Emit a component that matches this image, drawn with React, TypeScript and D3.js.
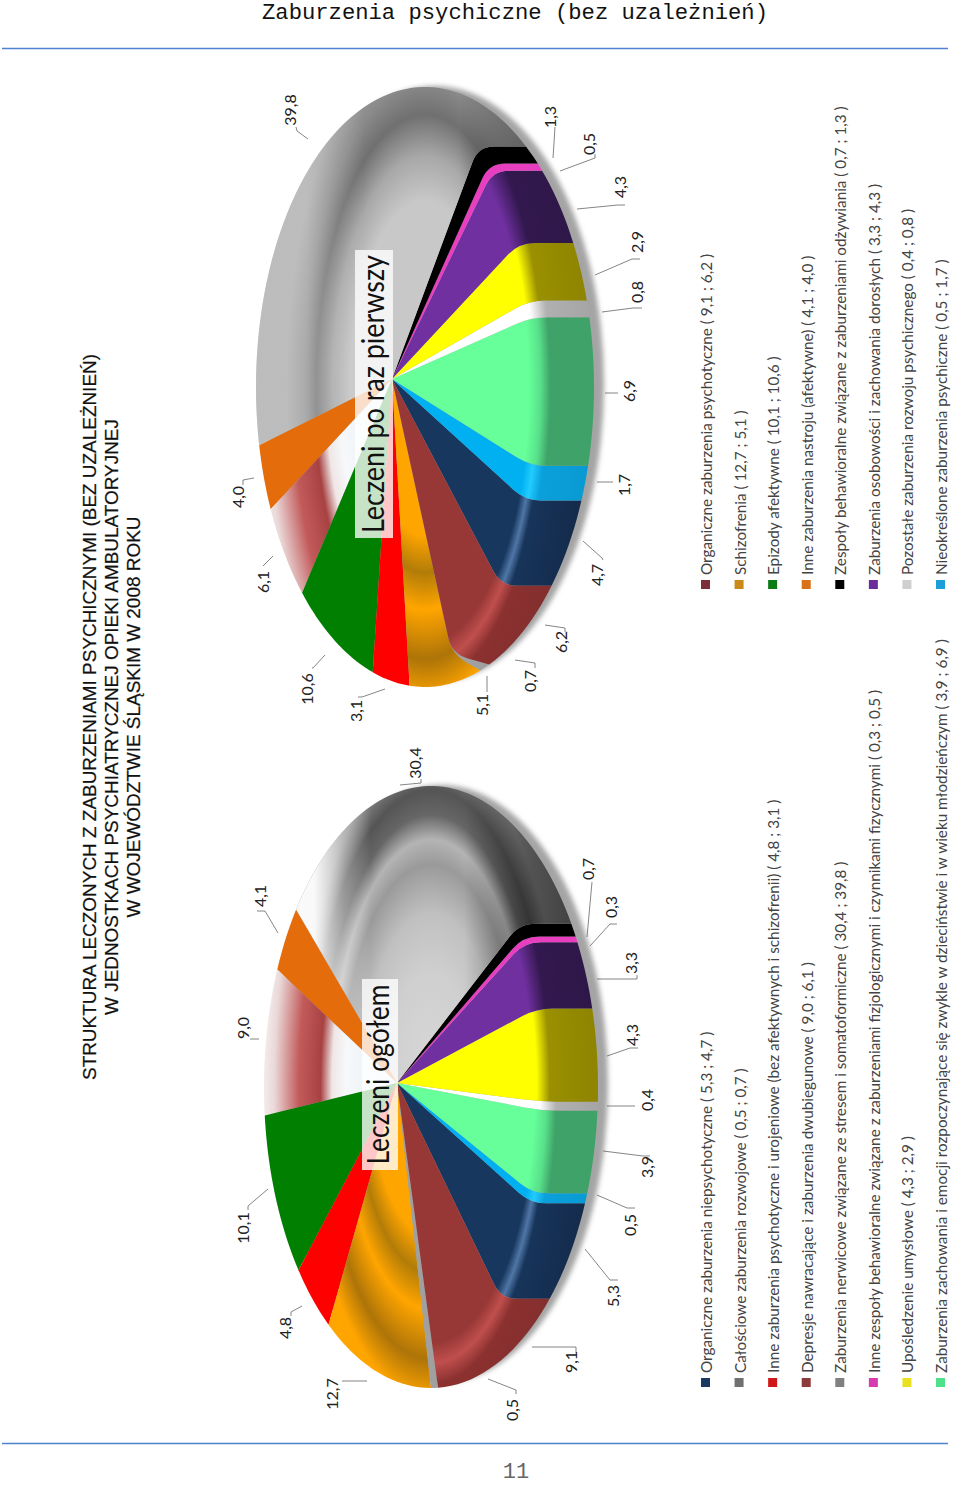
import React from 'react';
import * as d3 from 'd3';

const categories = [
  'Organiczne zaburzenia niepsychotyczne',
  'Nieokreślone zaburzenia psychiczne',
  'Zaburzenia zachowania i emocji rozpoczynające się zwykle w dzieciństwie i w wieku młodzieńczym',
  'Pozostałe zaburzenia rozwoju psychicznego',
  'Upośledzenie umysłowe',
  'Zaburzenia osobowości i zachowania dorosłych',
  'Inne zespoły behawioralne związane z zaburzeniami fizjologicznymi i czynnikami fizycznymi',
  'Zespoły behawioralne  związane z zaburzeniami odżywiania',
  'Zaburzenia nerwicowe związane ze stresem i somatoformiczne',
  'Inne zaburzenia nastroju (afektywne)',
  'Depresje nawracające i zaburzenia dwubiegunowe',
  'Epizody afektywne',
  'Inne zaburzenia psychotyczne i urojeniowe (bez afektywnych i schizofrenii)',
  'Schizofrenia',
  'Całościowe zaburzenia rozwojowe',
  'Organiczne zaburzenia psychotyczne',
];
const totalValues = [5.3, 0.5, 3.9, 0.4, 4.3, 3.3, 0.3, 0.7, 30.4, 4.1, 9.0, 10.1, 4.8, 12.7, 0.5, 9.1];
const firstValues = [4.7, 1.7, 6.9, 0.8, 2.9, 4.3, 0.5, 1.3, 39.8, 4.0, 6.1, 10.6, 3.1, 5.1, 0.7, 6.2];
const legendLeftOrder = [0, 14, 12, 10, 8, 6, 4, 2];
const legendRightOrder = [15, 13, 11, 9, 7, 5, 3, 1];
const legendColors = ['#1b3a63', '#1c9fd8', '#4fe08a', '#cfcfcf', '#e8e020', '#6b2d9c', '#d63cb0', '#000000', '#808080', '#d9701a', '#8f3a3a', '#0a7a12', '#d01818', '#c98a1a', '#707070', '#7d2c3a'];

const titleLines = [
  'STRUKTURA LECZONYCH Z ZABURZENIAMI PSYCHICZNYMI (BEZ UZALEŻNIEŃ)',
  'W JEDNOSTKACH PSYCHIATRYCZNEJ OPIEKI AMBULATORYJNEJ',
  'W WOJEWÓDZTWIE ŚLĄSKIM W 2008 ROKU',
];

// gradient stops per slice, offset runs out from the pie centre
type Stop = [number, string];
const stopsTotalGray: Stop[] = [[0, '#d8d8d8'], [0.28, '#cfcfcf'], [0.42, '#c0c0c0'], [0.54, '#9a9a9a'], [0.6, '#b4b4b4'], [0.66, '#666666'], [0.72, '#555555'], [0.8, '#8a8a8a'], [1, '#8a8a8a']];
const stopsFirstGray: Stop[] = [[0, '#c8c8c8'], [0.45, '#c8c8c8'], [0.56, '#a8a8a8'], [0.66, '#707070'], [0.74, '#8a8a8a'], [0.84, '#a0a0a0'], [1, '#a0a0a0']];
const sliceStops: Stop[][] = [
  [[0, '#17375e'], [0.63, '#17375e'], [0.67, '#4f76a6'], [0.71, '#17345a'], [1, '#142a4a']],
  [[0, '#00b0f0'], [0.63, '#00b0f0'], [0.68, '#22ccff'], [0.74, '#0aa0dc'], [1, '#0a9ad2']],
  [[0, '#66ff99'], [0.63, '#66ff99'], [0.7, '#58e08a'], [0.76, '#3fa268'], [1, '#3fa268']],
  [[0, '#ffffff'], [0.66, '#ffffff'], [0.76, '#b0b0b0'], [1, '#a6a6a6']],
  [[0, '#ffff00'], [0.64, '#ffff00'], [0.72, '#9a9000'], [1, '#8e8400']],
  [[0, '#7030a0'], [0.62, '#7030a0'], [0.72, '#32184e'], [1, '#2e1748']],
  [[0, '#e83fc0'], [1, '#e83fc0']],
  [[0, '#000000'], [1, '#000000']],
  stopsTotalGray,
  [[0, '#e46c0a'], [1, '#e46c0a']],
  [[0, '#dbe6f0'], [0.52, '#f6f8fa'], [0.6, '#f0e6e6'], [0.67, '#a84242'], [0.8, '#c25a5a'], [0.95, '#ead8d8'], [1, '#f2e8e8']],
  [[0, '#007f00'], [1, '#007f00']],
  [[0, '#ff0000'], [1, '#ff0000']],
  [[0, '#ffa500'], [0.36, '#ffa500'], [0.45, '#b27c08'], [0.54, '#ffa500'], [0.66, '#ad7408'], [0.76, '#ffa500'], [1, '#ffa500']],
  [[0, '#a0a0a0'], [1, '#a0a0a0']],
  [[0, '#983836'], [0.62, '#983836'], [0.67, '#bf4f4d'], [0.72, '#8b3130'], [1, '#7e2d2d']],
];

// callout leaders: [points, label x, label y], same order as the slices
type Callout = [number[][], number, number];
const calloutsTotal: Callout[] = [
  [[[585, 1249], [610, 1280], [618, 1280]], 613, 1296],
  [[[597, 1195], [627, 1208], [635, 1208]], 630, 1225],
  [[[603, 1151], [643, 1156], [650, 1156]], 647, 1167],
  [[[607, 1106], [635, 1106]], 647, 1100],
  [[[607, 1056], [630, 1048], [638, 1048]], 632, 1035],
  [[[597, 979], [637, 979], [637, 975]], 631, 963],
  [[[590, 946], [610, 924], [617, 924]], 611, 907],
  [[[587, 937], [592, 882]], 588, 869],
  [[[400, 785], [421, 783], [421, 779]], 415, 763],
  [[[278, 933], [265, 911], [257, 911]], 260, 896],
  [[[259, 1039], [250, 1039]], 243, 1028],
  [[[268, 1189], [248, 1206], [248, 1210]], 243, 1228],
  [[[302, 1306], [291, 1312], [291, 1316]], 285, 1328],
  [[[367, 1381], [342, 1381]], 332, 1394],
  [[[488, 1379], [516, 1390], [516, 1394]], 512, 1410],
  [[[532, 1347], [576, 1347], [576, 1353]], 571, 1362],
];
const calloutsFirst: Callout[] = [
  [[[583, 541], [602, 558], [603, 560]], 597, 575],
  [[[597, 482], [613, 482]], 624, 485],
  [[[605, 393], [618, 393]], 629, 391],
  [[[602, 312], [633, 308], [642, 308]], 637, 292],
  [[[595, 275], [632, 259], [640, 259]], 637, 242],
  [[[577, 209], [618, 205], [625, 205]], 620, 187],
  [[[560, 171], [595, 158], [595, 154]], 589, 144],
  [[[553, 158], [555, 127]], 550, 117],
  [[[308, 139], [297, 131], [296, 127]], 290, 110],
  [[[254, 478], [243, 480], [243, 485]], 238, 497],
  [[[273, 556], [263, 566]], 263, 582],
  [[[325, 655], [313, 668], [312, 668]], 307, 689],
  [[[385, 689], [362, 697], [358, 697]], 356, 711],
  [[[487, 676], [487, 692]], 482, 705],
  [[[515, 660], [535, 663], [535, 668]], 530, 681],
  [[[545, 625], [565, 628], [565, 632]], 561, 642],
];

const pieces = [
  { id: 'total', values: totalValues, callouts: calloutsTotal, grayStops: stopsTotalGray, cx: 431, cy: 1087, rx: 167, ry: 301, shift: -0.14, start: 39, bulgeAt: 85, bulge: 10, apex: [397, 1083], ringRx: 110, ringRy: 275, whiteEdge: 0.95, caption: 'Leczeni ogółem', captionLen: 180, box: [362, 979, 36, 191] },
  { id: 'first', values: firstValues, callouts: calloutsFirst, grayStops: stopsFirstGray, cx: 425, cy: 387, rx: 169, ry: 300, shift: -0.13, start: 36.7, bulgeAt: 92, bulge: 9, apex: [392, 379], ringRx: 110, ringRy: 275, whiteEdge: 0.3, caption: 'Leczeni po raz pierwszy', captionLen: 278, box: [355, 250, 38, 288] },
];

const fmt = d3.formatLocale({ decimal: ',', thousands: ' ', grouping: [3], currency: ['', ''] }).format('.1f');
const sans = '"Liberation Sans", Arial, sans-serif';
const labelFont = 'Lato, "Open Sans", sans-serif';

function PerspectivePie({ p }: { p: (typeof pieces)[number] }) {
  const arcs = d3.pie<number>().sort(null).value((d) => d)(p.values);
  const root = Math.sqrt(1 - p.shift * p.shift);
  // circle angle -> tilted ellipse, the front of the pie bulges a bit
  const project = (angle: number): [number, number] => {
    let deg = p.start - (angle * 180) / Math.PI;
    deg = ((deg + 540) % 360) - 180;
    deg += p.bulge * Math.exp(-(((deg - p.bulgeAt) / 25) ** 2));
    const t = (deg * Math.PI) / 180;
    const a = Math.cos(t);
    const b = Math.sin(t);
    const k = 1 + p.shift * a;
    return [p.cx + (p.rx * (a + p.shift)) / k, p.cy + (p.ry * b * root) / k];
  };
  const apex = p.apex;

  const kink = (rim: [number, number]): [number, number] | null => {
    const raw = (rim[1] - p.cy) / p.ringRy;
    if (rim[0] < p.cx + 4) return null;
    const dy = Math.max(-0.97, Math.min(0.97, raw));
    const x = p.cx + p.ringRx * Math.sqrt(1 - dy * dy);
    return x < rim[0] ? [x, p.cy + dy * p.ringRy] : null;
  };
  const toward = (from: number[], to: number[], dist: number): [number, number] => {
    const len = Math.hypot(to[0] - from[0], to[1] - from[1]) || 1;
    const d = Math.min(dist, len / 2);
    return [from[0] + ((to[0] - from[0]) * d) / len, from[1] + ((to[1] - from[1]) * d) / len];
  };

  const slicePath = (a0: number, a1: number) => {
    const path = d3.path();
    const r0 = project(a0);
    const r1 = project(a1);
    const k0 = kink(r0);
    const k1 = kink(r1);
    path.moveTo(apex[0], apex[1]);
    if (k0) {
      const s = toward(k0, apex, 16);
      const e = toward(k0, r0, 16);
      path.lineTo(s[0], s[1]);
      path.quadraticCurveTo(k0[0], k0[1], e[0], e[1]);
    }
    path.lineTo(r0[0], r0[1]);
    const steps = Math.max(2, Math.ceil((a1 - a0) / 0.03));
    d3.range(1, steps + 1).forEach((i) => {
      const q = project(a0 + ((a1 - a0) * i) / steps);
      path.lineTo(q[0], q[1]);
    });
    if (k1) {
      const s = toward(k1, r1, 16);
      const e = toward(k1, apex, 16);
      path.lineTo(s[0], s[1]);
      path.quadraticCurveTo(k1[0], k1[1], e[0], e[1]);
    }
    path.closePath();
    return path.toString();
  };

  const gradTransform = `translate(${p.cx},${p.cy}) scale(${p.ringRx * 1.5},${p.ringRy * 1.5})`;
  const grayIndex = 8;
  const [bx, by, bw, bh] = p.box;

  return (
    <g>
      <defs>
        {arcs.map((arc, i) => (
          <radialGradient key={i} id={`${p.id}-s${i}`} gradientUnits="userSpaceOnUse" cx={0} cy={0} r={1} gradientTransform={gradTransform}>
            {(i === grayIndex ? p.grayStops : sliceStops[i]).map(([o, c]) => (
              <stop key={o} offset={o} stopColor={c} />
            ))}
          </radialGradient>
        ))}
        <linearGradient id={`${p.id}-light`} gradientUnits="userSpaceOnUse" x1={p.cx - p.rx} x2={p.cx + p.rx} y1={0} y2={0}>
          <stop offset={0} stopColor="#fff" stopOpacity={p.whiteEdge} />
          <stop offset={0.15} stopColor="#fff" stopOpacity={p.whiteEdge} />
          <stop offset={0.24} stopColor="#fff" stopOpacity={p.whiteEdge * 0.4} />
          <stop offset={0.32} stopColor="#fff" stopOpacity={0} />
          <stop offset={0.6} stopColor="#000" stopOpacity={0} />
          <stop offset={0.8} stopColor="#000" stopOpacity={0.4} />
          <stop offset={1} stopColor="#000" stopOpacity={0.6} />
        </linearGradient>
      </defs>
      <ellipse cx={p.cx + 10} cy={p.cy - 3} rx={p.rx} ry={p.ry - 2} fill="#a4a4a4" filter="url(#soft)" />
      {arcs.map((arc, i) => (
        <path key={i} d={slicePath(arc.startAngle, arc.endAngle)} fill={`url(#${p.id}-s${i})`} />
      ))}
      <path d={slicePath(arcs[grayIndex].startAngle, arcs[grayIndex].endAngle)} fill={`url(#${p.id}-light)`} />
      <rect x={bx} y={by} width={bw} height={bh} fill="#fff" fillOpacity={0.78} />
      <text transform={`translate(${bx + bw - 9},${by + bh / 2}) rotate(-90)`} textAnchor="middle" fontFamily={labelFont} fontSize={31} fill="#111" textLength={p.captionLen} lengthAdjust="spacingAndGlyphs">
        {p.caption}
      </text>
      {p.callouts.map(([pts, lx, ly], i) => (
        <g key={i}>
          <path d={d3.line()(pts as [number, number][]) ?? ''} fill="none" stroke="#666" strokeWidth={0.8} />
          <text transform={`translate(${lx + 6},${ly}) rotate(-90)`} textAnchor="middle" fontFamily={labelFont} fontSize={16} fill="#222">
            {fmt(p.values[i])}
          </text>
        </g>
      ))}
    </g>
  );
}

function Legend({ order, top }: { order: number[]; top: number }) {
  const x = d3.scalePoint<number>().domain(order).range([712, 947]);
  return (
    <g>
      {order.map((c) => (
        <g key={c}>
          <rect x={(x(c) ?? 0) - 11} y={top + 2} width={9} height={9} fill={legendColors[c]} />
          <text transform={`translate(${x(c)},${top - 3}) rotate(-90)`} fontFamily={labelFont} fontSize={15.3} fill="#444">
            {`${categories[c]} ( ${fmt(totalValues[c])} ; ${fmt(firstValues[c])} )`}
          </text>
        </g>
      ))}
    </g>
  );
}

export default function App() {
  return (
    <svg width={960} height={1485} style={{ position: 'absolute', left: 0, top: 0, background: '#fff' }}>
      <defs>
        <filter id="soft" x="-10%" y="-10%" width="120%" height="120%">
          <feGaussianBlur stdDeviation={2.5} />
        </filter>
      </defs>
      <text x={515} y={19} textAnchor="middle" fontFamily='"Liberation Mono", monospace' fontSize={22.2} fill="#111">
        Zaburzenia psychiczne (bez uzależnień)
      </text>
      <line x1={2} x2={948} y1={48.5} y2={48.5} stroke="#4f81d0" strokeWidth={1.5} />
      <line x1={2} x2={948} y1={1443.5} y2={1443.5} stroke="#4f81d0" strokeWidth={1.5} />
      <text x={516} y={1478} textAnchor="middle" fontFamily='"Liberation Mono", monospace' fontSize={22} fill="#666">
        11
      </text>
      {titleLines.map((line, i) => (
        <text key={i} transform={`translate(${96 + i * 22},717) rotate(-90)`} textAnchor="middle" fontFamily={sans} fontSize={18.95} fill="#111" stroke="#111" strokeWidth={0.2}>
          {line}
        </text>
      ))}
      {pieces.map((p) => (
        <PerspectivePie key={p.id} p={p} />
      ))}
      <Legend order={legendLeftOrder} top={1376} />
      <Legend order={legendRightOrder} top={578} />
    </svg>
  );
}
